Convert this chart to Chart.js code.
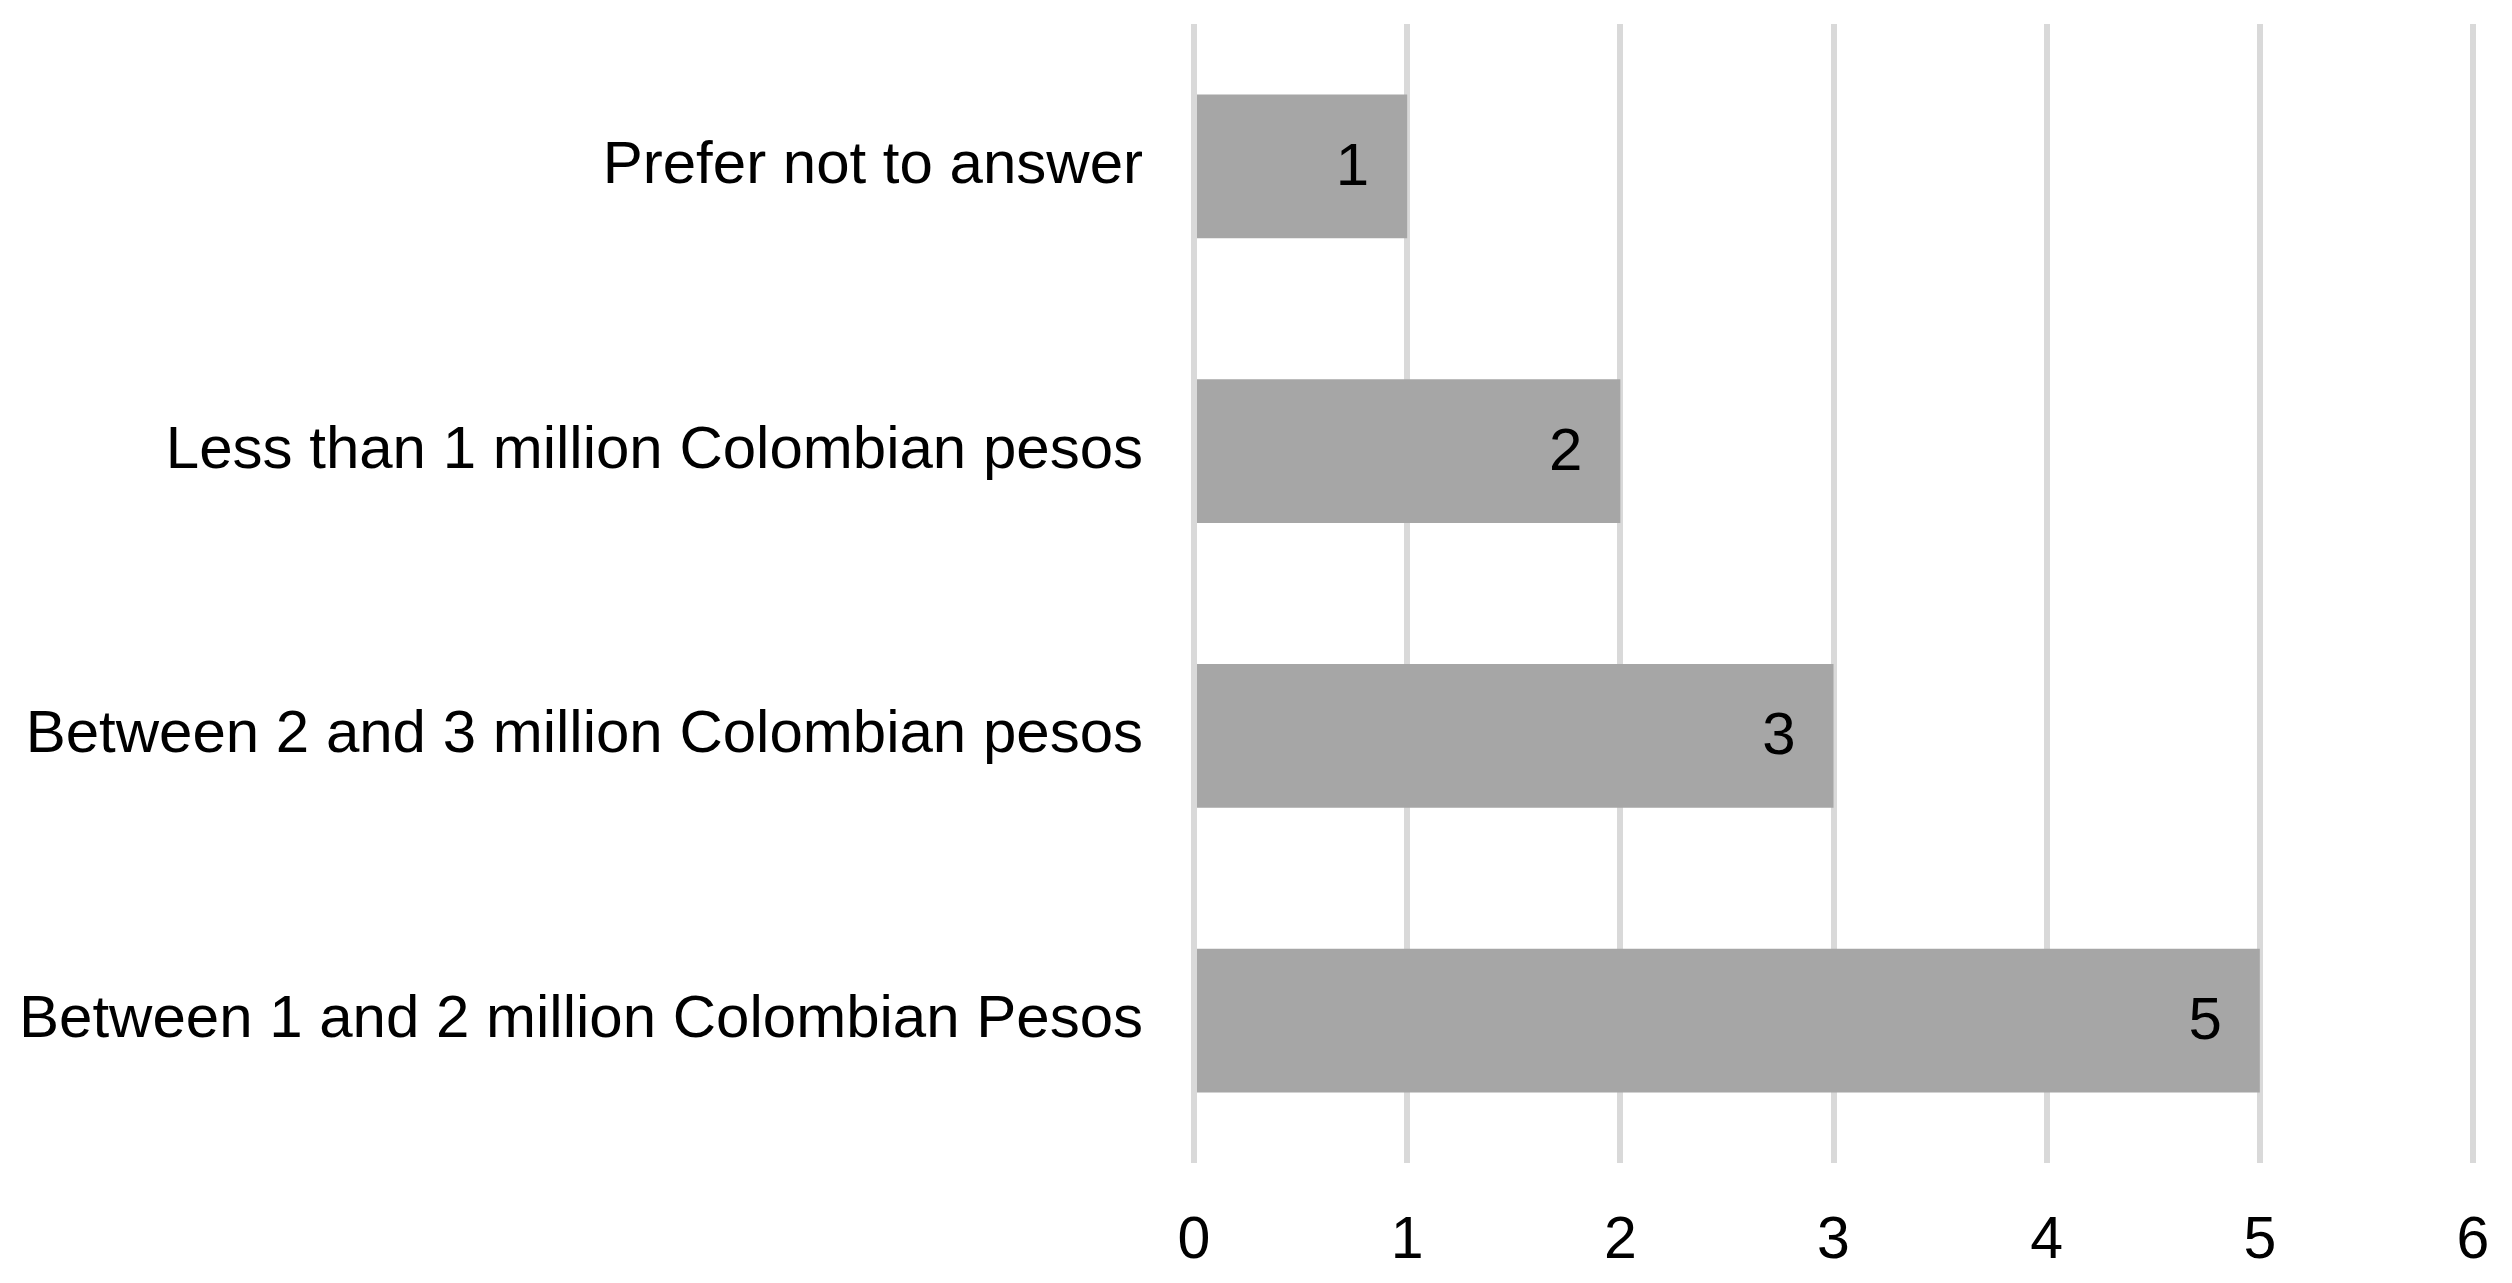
<!DOCTYPE html>
<html>
<head>
<meta charset="utf-8">
<script src="https://cdn.jsdelivr.net/npm/chart.js@4/dist/chart.umd.min.js"></script>
<style>
  html, body { margin: 0; padding: 0; background: #fff; }
  #wrap { width: 2512px; height: 1283px; }
</style>
</head>
<body>
<div id="wrap"><canvas id="chart"></canvas></div>
<script>
// Chart data
const categories = [
    'Prefer not to answer',
    'Less than 1 million Colombian pesos',
    'Between 2 and 3 million Colombian pesos',
    'Between 1 and 2 million Colombian Pesos'
];
const counts = [1, 2, 3, 5];
const axisMin = 0;
const axisMax = 6;

const FONT = '"Liberation Sans", Arial, sans-serif';

// Draw the value inside the end of each bar
const barValueLabels = {
    id: 'barValueLabels',
    afterDatasetsDraw(chart) {
        const ctx = chart.ctx;
        const meta = chart.getDatasetMeta(0);
        ctx.save();
        ctx.font = '60px ' + FONT;
        ctx.fillStyle = '#000';
        ctx.textAlign = 'right';
        ctx.textBaseline = 'middle';
        meta.data.forEach((bar, i) => {
            ctx.fillText(String(counts[i]), bar.x - 38, bar.y + 2);
        });
        ctx.restore();
    }
};

// tick padding should not eat into the plot area
function noEdgePadding(scale) {
    scale.paddingTop = 0;
    scale.paddingBottom = 0;
    scale.paddingLeft = 0;
    scale.paddingRight = 0;
}

new Chart(document.getElementById('chart').getContext('2d'), {
    type: 'bar',
    data: {
        labels: categories,
        datasets: [{
            data: counts,
            backgroundColor: '#a6a6a6',
            borderWidth: 0,
            categoryPercentage: 1.0,
            barPercentage: 0.505
        }]
    },
    options: {
        indexAxis: 'y',
        responsive: true,
        maintainAspectRatio: false,
        animation: false,
        layout: {
            padding: { left: 24, right: 39, top: 24, bottom: 10 }
        },
        plugins: {
            legend: { display: false },
            tooltip: { enabled: false }
        },
        scales: {
            x: {
                min: axisMin,
                max: axisMax,
                ticks: {
                    stepSize: 1,
                    color: '#000',
                    padding: 43,
                    font: { family: FONT, size: 59 }
                },
                grid: {
                    color: '#d9d9d9',
                    lineWidth: 6,
                    drawTicks: false
                },
                border: { display: false },
                afterFit(scale) {
                    noEdgePadding(scale);
                    scale.height = 110;
                }
            },
            y: {
                ticks: {
                    color: '#000',
                    padding: 51,
                    font: { family: FONT, size: 60 }
                },
                grid: { display: false, drawTicks: false },
                border: { display: false },
                afterFit(scale) {
                    noEdgePadding(scale);
                    scale.width = 1170;
                }
            }
        }
    },
    plugins: [barValueLabels]
});
</script>
</body>
</html>
